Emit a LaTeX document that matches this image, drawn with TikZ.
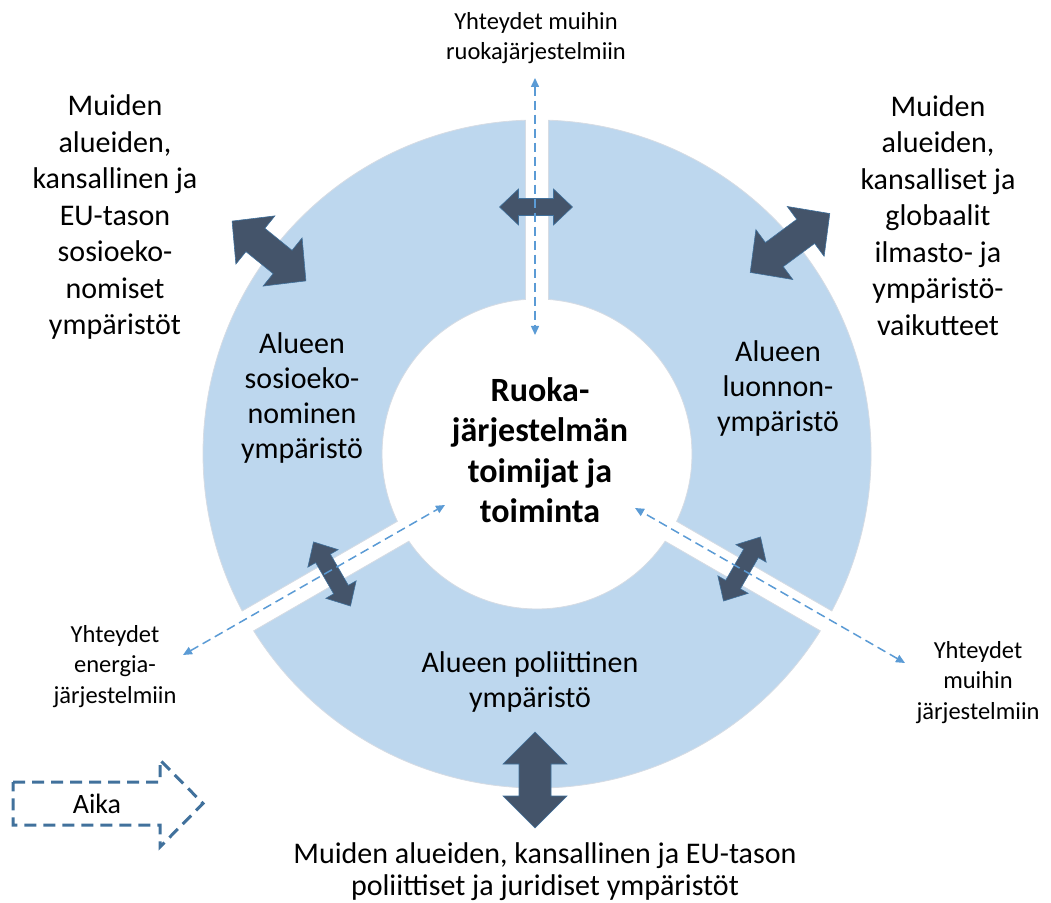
\documentclass[tikz,border=0pt]{standalone}
\usepackage{fontspec}
\setmainfont{Carlito}
\usetikzlibrary{arrows.meta}
\definecolor{ringfill}{HTML}{BDD7EE}
\definecolor{ringedge}{HTML}{D6DCE4}
\definecolor{darkarr}{HTML}{44546A}
\definecolor{darkedge}{HTML}{41719C}
\definecolor{connblue}{HTML}{5B9BD5}
\definecolor{aikablue}{HTML}{41719C}
\tikzset{
  ringseg/.style={fill=ringfill, draw=ringedge, line width=0.8pt},
  arrowshape/.style={fill=darkarr, draw=darkedge, line width=0.6pt, line join=miter},
  txt/.style={align=center, inner sep=0pt, font=\fontsize{30}{36.5}\selectfont},
  ringtxt/.style={align=center, inner sep=0pt, font=\fontsize{30}{35}\selectfont},
  smalltxt/.style={align=center, inner sep=0pt, font=\fontsize{24.5}{30.5}\selectfont},
  dashconn/.style={draw=connblue, line width=1.5pt, dash pattern=on 9pt off 5pt,
    {Triangle[length=9pt,width=8pt]}-{Triangle[length=9pt,width=8pt]}},
  aikastyle/.style={draw=aikablue, line width=3pt, dash pattern=on 12pt off 7pt, line join=miter}
}
% center, angle, total length, head width, shaft width, head length
\newcommand{\dblarr}[6]{%
  \filldraw[arrowshape,shift={(#1)},rotate=#2]
   ({-(#3)/2},0) -- ({-(#3)/2+(#6)},{(#4)/2}) -- ({-(#3)/2+(#6)},{(#5)/2})
   -- ({(#3)/2-(#6)},{(#5)/2}) -- ({(#3)/2-(#6)},{(#4)/2}) -- ({(#3)/2},0)
   -- ({(#3)/2-(#6)},{-(#4)/2}) -- ({(#3)/2-(#6)},{-(#5)/2})
   -- ({-(#3)/2+(#6)},{-(#5)/2}) -- ({-(#3)/2+(#6)},{-(#4)/2}) -- cycle;}
\begin{document}
\begin{tikzpicture}[x=1pt,y=1pt]
\useasboundingbox (0,0) rectangle (1051,902);
% ring segments
\begin{scope}[shift={(537,448)}]
  \path[ringseg] (91.97:334) arc[start angle=91.97,end angle=208.03,radius=334pt]
     -- (205.75:155) arc[start angle=205.75,end angle=94.25,radius=155pt] -- cycle;
  \path[ringseg] (211.97:334) arc[start angle=211.97,end angle=328.03,radius=334pt]
     -- (325.75:155) arc[start angle=325.75,end angle=214.25,radius=155pt] -- cycle;
  \path[ringseg] (-28.03:334) arc[start angle=-28.03,end angle=88.03,radius=334pt]
     -- (85.75:155) arc[start angle=85.75,end angle=-25.75,radius=155pt] -- cycle;
\end{scope}
% texts
\node[smalltxt] (topText) at (536,864) {Yhteydet muihin\\ruokajärjestelmiin};
\node[txt] (ulText) at (115,684.5) {Muiden\\alueiden,\\kansallinen ja\\EU-tason\\sosioeko-\\nomiset\\ympäristöt};
\node[txt] (urText) at (938,686.5) {Muiden\\alueiden,\\kansalliset ja\\globaalit\\ilmasto- ja\\ympäristö-\\vaikutteet};
\node[ringtxt] (socText) at (302,503.5) {Alueen\\sosioeko-\\nominen\\ympäristö};
\node[ringtxt] (natText) at (778,513) {Alueen\\luonnon-\\ympäristö};
\node[align=center, inner sep=0pt, font=\fontsize{34}{40.5}\selectfont\bfseries] (center) at (540,452) {Ruoka-\\järjestelmän\\toimijat ja\\toiminta};
\node[ringtxt] (polText) at (530,219.5) {Alueen poliittinen\\ympäristö};
\node[smalltxt] (enText) at (115,235.5) {Yhteydet\\energia-\\järjestelmiin};
\node[smalltxt] (othText) at (978,219.5) {Yhteydet\\muihin\\järjestelmiin};
\node[align=center, inner sep=0pt, font=\fontsize{30}{32.5}\selectfont] (botText) at (545,30.5) {Muiden alueiden, kansallinen ja EU-tason\\poliittiset ja juridiset ympäristöt};
% Aika arrow
\draw[aikastyle] (13,120) -- (160,120) -- (160,142) -- (203,98.5) -- (160,55) -- (160,77) -- (13,77) -- cycle;
\node[inner sep=0pt, font=\fontsize{28}{32}\selectfont] (aika) at (97,98.5) {Aika};
% dark double arrows
\dblarr{536,695}{0}{73}{36}{17}{19}
\dblarr{332,328}{120}{74}{35}{17}{19}
\dblarr{742,333}{60}{74}{35}{17}{19}
\dblarr{269,651}{-39}{95}{62}{30}{30}
\dblarr{790,659}{36.5}{99}{62}{30}{30}
\dblarr{535,122}{90}{96}{64}{32}{32}
% dashed connectors
\coordinate (topOut) at (535,824);
\coordinate (topIn) at (535,567);
\coordinate (llOut) at (183,247);
\coordinate (llIn) at (445,397);
\coordinate (lrOut) at (905,239);
\coordinate (lrIn) at (635,394);
\draw[dashconn] (topOut) -- (topIn);
\draw[dashconn] (llOut) -- (llIn);
\draw[dashconn] (lrOut) -- (lrIn);
\end{tikzpicture}
\end{document}
